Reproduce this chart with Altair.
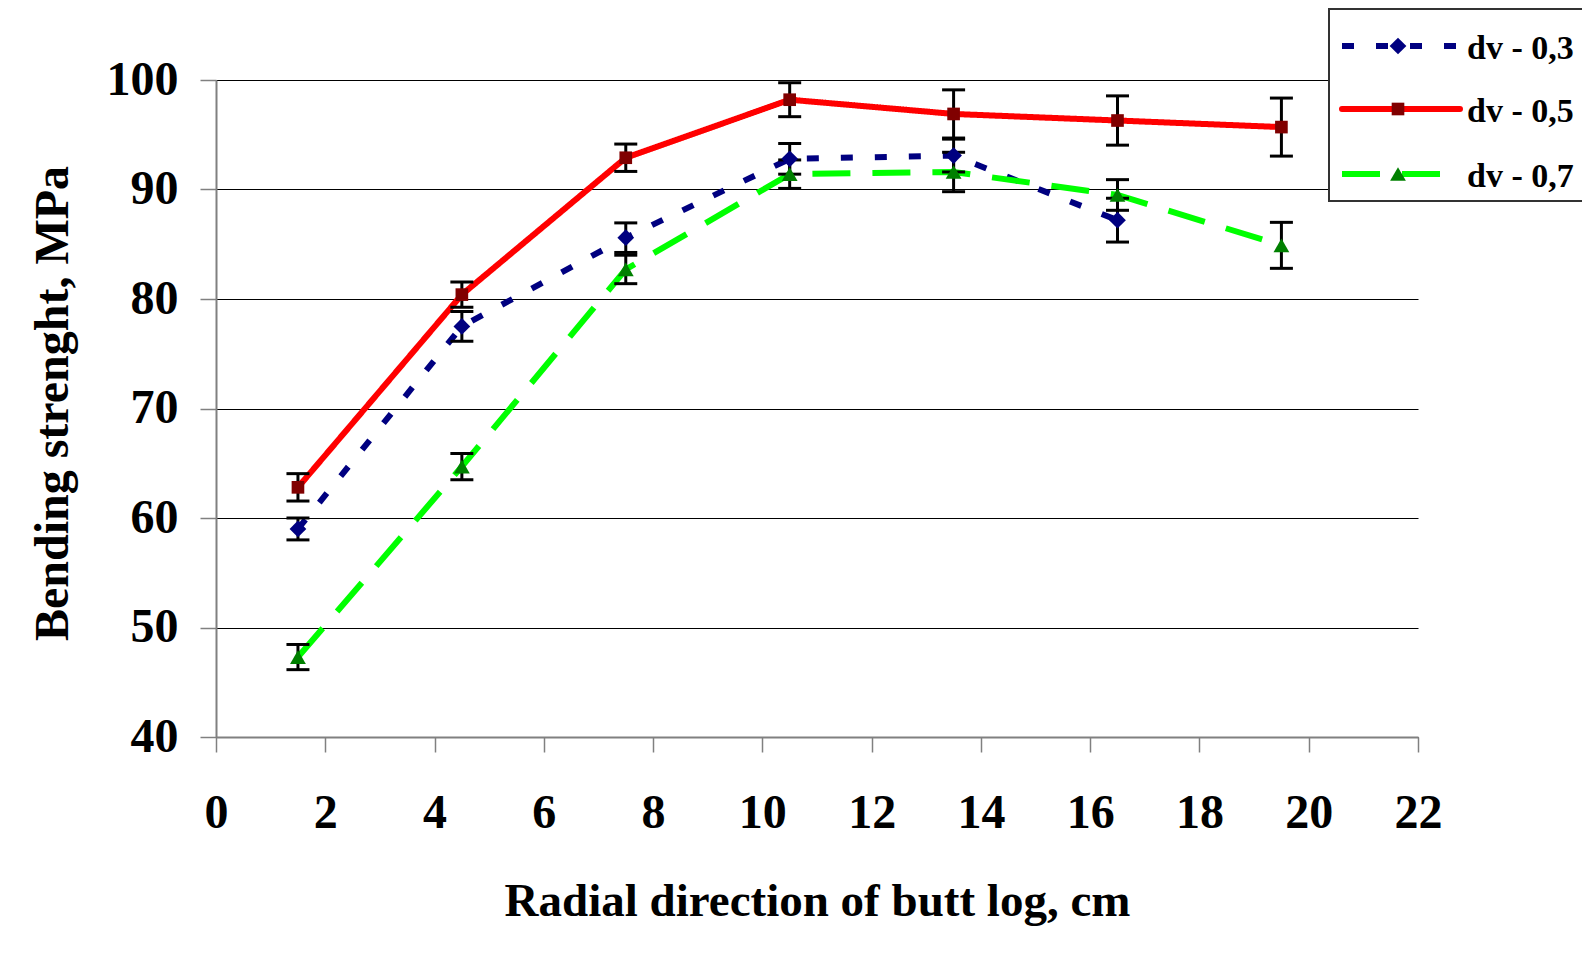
import altair as alt
import pandas as pd

# ---- data ----
x_pos = [1.5, 4.5, 7.5, 10.5, 13.5, 16.5, 19.5]
series_names = ["dv - 0,3", "dv - 0,5", "dv - 0,7"]
dv03 = [59.0, 77.5, 85.6, 92.8, 93.1, 87.2]
dv03_err = [1.0, 1.35, 1.35, 1.4, 1.5, 2.0]
dv05 = [62.8, 80.4, 92.9, 98.2, 96.9, 96.3, 95.7]
dv05_err = [1.25, 1.15, 1.25, 1.55, 2.2, 2.25, 2.65]
dv07 = [47.3, 64.7, 82.7, 91.4, 91.6, 89.5, 84.9]
dv07_err = [1.15, 1.2, 1.3, 1.3, 1.8, 1.4, 2.1]
x_ticks = list(range(0, 23, 2))
y_ticks = list(range(40, 101, 10))

FONT = "Liberation Serif"

values = [dv03, dv05, dv07]
errors = [dv03_err, dv05_err, dv07_err]
rows = []
for name, vals, errs in zip(series_names, values, errors):
    for xv, yv, ev in zip(x_pos, vals, errs):
        rows.append({"series": name, "x": xv, "y": yv, "lo": yv - ev, "hi": yv + ev})
df = pd.DataFrame(rows)

styles = {
    "dv - 0,3": dict(line="#000080", dash=[12, 22], cap="butt", shape="diamond", mcolor="#000080", size=280),
    "dv - 0,5": dict(line="#FF0000", dash=[1, 0], cap="round", shape="square", mcolor="#800000", size=160),
    "dv - 0,7": dict(line="#00FF00", dash=[38, 22], cap="butt", shape="triangle-up", mcolor="#008000", size=250),
}

x_axis = alt.Axis(
    values=x_ticks, grid=False, title="Radial direction of butt log, cm",
    domainColor="#808080", domainWidth=2, tickColor="#808080", tickWidth=1.5, tickSize=15,
    labelFont=FONT, labelFontSize=48, labelFontWeight="bold", labelColor="black",
    labelBaseline="alphabetic", labelPadding=75, labelFlush=False,
    titleFont=FONT, titleFontSize=47, titleFontWeight="bold", titleColor="black",
    titleBaseline="alphabetic", titleY=178, titleX=601, titleAlign="center",
)
y_axis = alt.Axis(
    values=y_ticks, grid=True, gridColor="black", gridWidth=1.2, title="Bending strenght, MPa",
    domainColor="#808080", domainWidth=2, tickColor="#808080", tickWidth=1.5, tickSize=16,
    labelFont=FONT, labelFontSize=48, labelFontWeight="bold", labelColor="black",
    labelPadding=22, labelFlush=False,
    titleFont=FONT, titleFontSize=48, titleFontWeight="bold", titleColor="black",
    titleAngle=270, titleAlign="center", titleBaseline="middle", titleX=-163, titleY=323,
)
X = alt.X("x:Q", scale=alt.Scale(domain=[0, 22], nice=False), axis=x_axis)
Y = alt.Y("y:Q", scale=alt.Scale(domain=[40, 100], nice=False), axis=y_axis)
YLO = alt.Y("lo:Q", scale=alt.Scale(domain=[40, 100], nice=False), axis=y_axis)
YHI = alt.Y("hi:Q", scale=alt.Scale(domain=[40, 100], nice=False), axis=y_axis)

base = alt.Chart(df)
lines, bars, caps, points = [], [], [], []
for name in series_names:
    s = styles[name]
    d = base.transform_filter(alt.datum.series == name)
    lines.append(d.mark_line(color=s["line"], strokeWidth=6, strokeDash=s["dash"],
                             strokeCap=s["cap"]).encode(x=X, y=Y))
    bars.append(d.mark_rule(color="black", strokeWidth=3).encode(x=X, y=YLO, y2="hi:Q"))
    caps.append(d.mark_tick(orient="horizontal", color="black", size=23, thickness=3,
                            opacity=1).encode(x=X, y=YLO))
    caps.append(d.mark_tick(orient="horizontal", color="black", size=23, thickness=3,
                            opacity=1).encode(x=X, y=YHI))
    points.append(d.mark_point(filled=True, shape=s["shape"], size=s["size"],
                               color=s["mcolor"], opacity=1).encode(x=X, y=Y))

# ---- legend (drawn manually, positioned in pixels relative to the plot) ----
leg_data = alt.Data(values=[{"k": 1}])
BOX_L, BOX_R, BOX_T, BOX_B = 1113, 1420, -71, 121
legend_layers = [
    alt.Chart(leg_data).mark_rect(fill="white", strokeWidth=0).encode(
        x=alt.value(BOX_L), x2=alt.value(BOX_R), y=alt.value(BOX_T), y2=alt.value(BOX_B)),
    alt.Chart(leg_data).mark_rule(color="#333333", strokeWidth=2).encode(
        x=alt.value(BOX_L), x2=alt.value(BOX_R), y=alt.value(BOX_T)),
    alt.Chart(leg_data).mark_rule(color="#333333", strokeWidth=2).encode(
        x=alt.value(BOX_L), x2=alt.value(BOX_R), y=alt.value(BOX_B)),
    alt.Chart(leg_data).mark_rule(color="#333333", strokeWidth=2).encode(
        x=alt.value(BOX_L), y=alt.value(BOX_T - 1), y2=alt.value(BOX_B + 1)),
]
row_y = [-34, 29, 94]
for name, ry in zip(series_names, row_y):
    s = styles[name]
    legend_layers.append(
        alt.Chart(leg_data).mark_rule(color=s["line"], strokeWidth=6, strokeDash=s["dash"],
                                      strokeCap=s["cap"]).encode(
            x=alt.value(1126), x2=alt.value(1244), y=alt.value(ry)))
    legend_layers.append(
        alt.Chart(leg_data).mark_point(filled=True, shape=s["shape"], size=s["size"],
                                       color=s["mcolor"], opacity=1).encode(
            x=alt.value(1182), y=alt.value(ry)))
    legend_layers.append(
        alt.Chart(leg_data).mark_text(text=name, font=FONT, fontSize=34, fontWeight="bold",
                                      color="black", align="left", baseline="alphabetic").encode(
            x=alt.value(1251), y=alt.value(ry + 13)))

chart = alt.layer(*lines, *bars, *caps, *points, *legend_layers).properties(
    width=1202, height=657,
    padding={"left": 208, "top": 72, "right": 164, "bottom": 200},
    autosize=alt.AutoSizeParams(type="none"),
    background="white",
).configure_view(strokeWidth=0)

chart.save("out.html", embed_options={"renderer": "svg", "actions": False})
